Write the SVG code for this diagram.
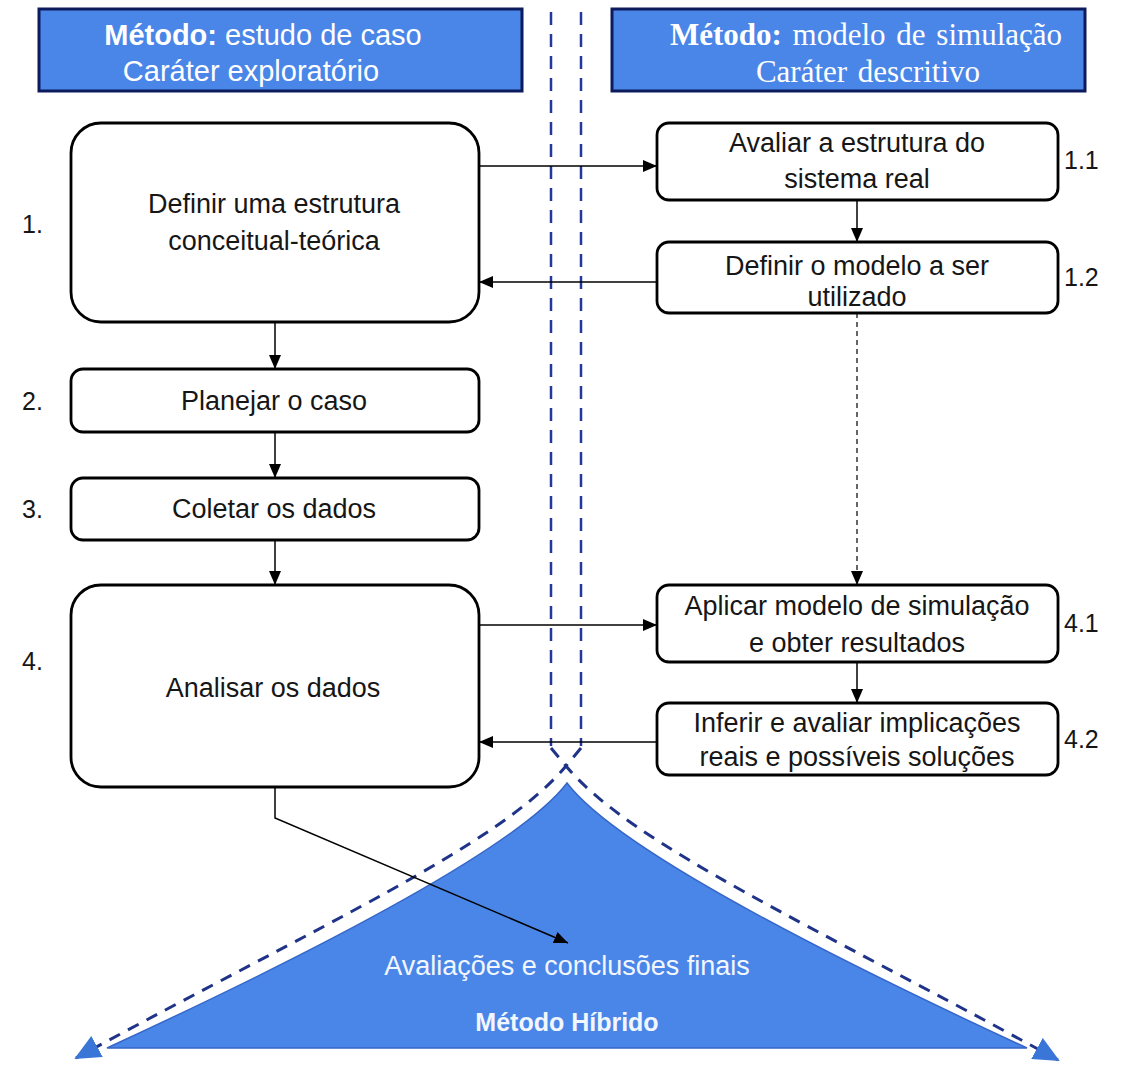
<svg xmlns="http://www.w3.org/2000/svg" width="1134" height="1066" viewBox="0 0 1134 1066">
  <style>
    .hdr { fill: #4a86e8; stroke: #0d1a5c; stroke-width: 3; }
    .hdr-sans { font-family: "Liberation Sans", Arial, sans-serif; font-size: 29px; fill: #ffffff; text-anchor: middle; }
    .hdr-serif { font-family: "Liberation Serif", "Times New Roman", serif; font-size: 31px; fill: #ffffff; text-anchor: middle; }
    .box { fill: #ffffff; stroke: #000000; stroke-width: 2.8; }
    .lbl { font-family: "Liberation Sans", Arial, sans-serif; font-size: 27px; fill: #161616; text-anchor: middle; }
    .num { font-family: "Liberation Sans", Arial, sans-serif; font-size: 25px; fill: #161616; }
    .edge { fill: none; stroke: #000000; stroke-width: 1.5; marker-end: url(#arrow); }
    .edge-dash { stroke-dasharray: 5 4; stroke-width: 1.2; }
    .divider { fill: none; stroke: #23389a; stroke-width: 2.5; stroke-dasharray: 13 9; }
    .spread { fill: none; stroke: #1f3388; stroke-width: 3; stroke-dasharray: 12 9; marker-end: url(#bluehead); }
    .hybrid { fill: #4a86e8; stroke: #3566c8; stroke-width: 1.5; }
    .hy-text { font-family: "Liberation Sans", Arial, sans-serif; fill: #f2f6ff; text-anchor: middle; }
  </style>
  <defs>
    <marker id="arrow" markerUnits="userSpaceOnUse" markerWidth="14" markerHeight="12" refX="14" refY="6" orient="auto">
      <path d="M0,0 L14,6 L0,12 Z" fill="#000000"/>
    </marker>
    <marker id="bluehead" markerUnits="userSpaceOnUse" markerWidth="26" markerHeight="24" refX="24" refY="12" orient="auto">
      <path d="M0,0 L26,12 L0,24 Z" fill="#3a76d8"/>
    </marker>
  </defs>

  <rect width="1134" height="1066" fill="#ffffff"/>

  <!-- hybrid method area at the bottom -->
  <g id="hybrid">
    <path class="hybrid" d="M567,783 C520,845 330,945 107,1048 L1027,1048 C804,945 614,845 567,783 Z"/>
    <text class="hy-text" x="567" y="975" font-size="27">Avaliações e conclusões finais</text>
    <text class="hy-text" x="567" y="1031" font-size="25" font-weight="bold">Método Híbrido</text>
  </g>

  <!-- dashed dividers between the two methods, crossing into the spread arrows -->
  <g id="dividers">
    <line class="divider" x1="551" y1="12" x2="551" y2="746"/>
    <line class="divider" x1="581" y1="12" x2="581" y2="746"/>
    <path class="spread" d="M581,748 L566,766 C500,845 320,925 76,1058"/>
    <path class="spread" d="M551,748 L566,766 C632,845 812,925 1058,1060"/>
  </g>

  <!-- column headers -->
  <g id="header-case">
    <rect class="hdr" x="39" y="9" width="483" height="82"/>
    <text class="hdr-sans" x="263" y="45"><tspan font-weight="bold">Método:</tspan> estudo de caso</text>
    <text class="hdr-sans" x="251" y="81">Caráter exploratório</text>
  </g>
  <g id="header-sim">
    <rect class="hdr" x="612" y="9" width="473" height="82"/>
    <text class="hdr-serif" x="866" y="45" word-spacing="3"><tspan font-weight="bold">Método:</tspan> modelo de simulação</text>
    <text class="hdr-serif" x="868" y="82" word-spacing="3">Caráter descritivo</text>
  </g>

  <!-- case study steps -->
  <g id="step-1">
    <rect class="box" x="71" y="123" width="408" height="199" rx="30"/>
    <text class="lbl" x="274" y="213">Definir uma estrutura</text>
    <text class="lbl" x="274" y="250">conceitual-teórica</text>
    <text class="num" x="22" y="233">1.</text>
  </g>
  <g id="step-2">
    <rect class="box" x="71" y="369" width="408" height="63" rx="12"/>
    <text class="lbl" x="274" y="410">Planejar o caso</text>
    <text class="num" x="22" y="410">2.</text>
  </g>
  <g id="step-3">
    <rect class="box" x="71" y="478" width="408" height="62" rx="12"/>
    <text class="lbl" x="274" y="518">Coletar os dados</text>
    <text class="num" x="22" y="518">3.</text>
  </g>
  <g id="step-4">
    <rect class="box" x="71" y="585" width="408" height="202" rx="30"/>
    <text class="lbl" x="273" y="697">Analisar os dados</text>
    <text class="num" x="22" y="670">4.</text>
  </g>

  <!-- simulation steps -->
  <g id="step-1-1">
    <rect class="box" x="657" y="123" width="401" height="77" rx="12"/>
    <text class="lbl" x="857" y="152">Avaliar a estrutura do</text>
    <text class="lbl" x="857" y="188">sistema real</text>
    <text class="num" x="1064" y="169">1.1</text>
  </g>
  <g id="step-1-2">
    <rect class="box" x="657" y="242" width="401" height="71" rx="12"/>
    <text class="lbl" x="857" y="275">Definir o modelo a ser</text>
    <text class="lbl" x="857" y="306">utilizado</text>
    <text class="num" x="1064" y="286">1.2</text>
  </g>
  <g id="step-4-1">
    <rect class="box" x="657" y="585" width="401" height="77" rx="12"/>
    <text class="lbl" x="857" y="615">Aplicar modelo de simulação</text>
    <text class="lbl" x="857" y="652">e obter resultados</text>
    <text class="num" x="1064" y="632">4.1</text>
  </g>
  <g id="step-4-2">
    <rect class="box" x="657" y="703" width="401" height="72" rx="12"/>
    <text class="lbl" x="857" y="732">Inferir e avaliar implicações</text>
    <text class="lbl" x="857" y="766">reais e possíveis soluções</text>
    <text class="num" x="1064" y="748">4.2</text>
  </g>

  <!-- connectors -->
  <g id="connectors">
    <path class="edge" d="M479,166 H657"/>
    <path class="edge" d="M857,200 V242"/>
    <path class="edge" d="M657,282 H479"/>
    <path class="edge" d="M275,322 V369"/>
    <path class="edge" d="M275,432 V478"/>
    <path class="edge" d="M275,540 V585"/>
    <path class="edge edge-dash" d="M857,313 V585"/>
    <path class="edge" d="M479,625 H657"/>
    <path class="edge" d="M857,662 V703"/>
    <path class="edge" d="M657,742 H479"/>
    <path class="edge" d="M275,787 V818 L568,943"/>
  </g>
</svg>
